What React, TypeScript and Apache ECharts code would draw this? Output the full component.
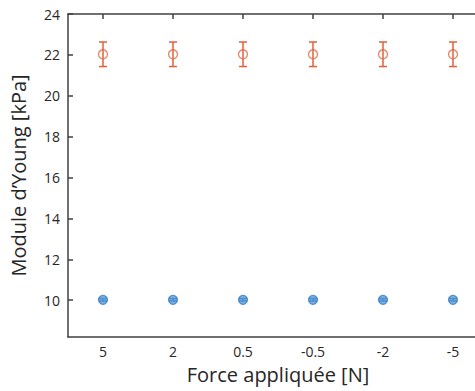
import React, { useEffect, useRef } from "react";
import * as echarts from "echarts";

const categories = ["5", "2", "0.5", "-0.5", "-2", "-5"];
const orangeMean = [22.03, 22.03, 22.03, 22.03, 22.03, 22.03];
const orangeErr = [0.6, 0.6, 0.6, 0.6, 0.6, 0.6];
const blueMean = [10.02, 10.02, 10.02, 10.02, 10.02, 10.02];
const blueErr = [0.06, 0.06, 0.06, 0.06, 0.06, 0.06];

const ORANGE = "#E2603A";
const BLUE = "#2E7CC4";
const AXIS = "#404040";
const FONT = "Open Sans";

function errSeries(mean: number[], err: number[], color: string) {
  const data = mean.map((m, i) => [i, m - err[i], m + err[i]]);
  return {
    type: "custom",
    data,
    z: 3,
    renderItem: (params: any, api: any) => {
      const x = api.value(0);
      const lo = api.coord([x, api.value(1)]);
      const hi = api.coord([x, api.value(2)]);
      const w = 4;
      const style = { stroke: color, lineWidth: 1.5 };
      return {
        type: "group",
        children: [
          { type: "line", shape: { x1: lo[0], y1: lo[1], x2: hi[0], y2: hi[1] }, style },
          { type: "line", shape: { x1: lo[0] - w, y1: lo[1], x2: lo[0] + w, y2: lo[1] }, style },
          { type: "line", shape: { x1: hi[0] - w, y1: hi[1], x2: hi[0] + w, y2: hi[1] }, style },
        ],
      };
    },
  };
}

export default function App() {
  const ref = useRef<HTMLDivElement>(null);
  useEffect(() => {
    const chart = echarts.init(ref.current!, null, { renderer: "svg" });
    chart.setOption({
      animation: false,
      textStyle: { fontFamily: FONT },
      grid: { left: 68, top: 14, width: 420, height: 323, outerBoundsMode: "none", containLabel: false },
      xAxis: [
        {
          type: "category",
          data: categories,
          boundaryGap: true,
          position: "bottom",
          axisLine: { lineStyle: { color: AXIS, width: 1.5 } },
          axisTick: { inside: true, alignWithLabel: true, length: 5, lineStyle: { color: AXIS, width: 1.5 } },
          axisLabel: { color: "#262626", fontSize: 14, margin: 7, fontFamily: FONT },
          name: "Force appliquée [N]",
          nameLocation: "middle",
          nameGap: 27,
          nameTextStyle: { color: "#262626", fontSize: 20, fontFamily: FONT },
        },
        {
          type: "category",
          data: categories,
          boundaryGap: true,
          position: "top",
          axisLine: { lineStyle: { color: AXIS, width: 1.5 } },
          axisTick: { show: true, inside: true, alignWithLabel: true, length: 5, lineStyle: { color: AXIS, width: 1.5 } },
          axisLabel: { show: false },
        },
      ],
      yAxis: {
        type: "value",
        min: 8.2,
        max: 24,
        splitNumber: 8,
        splitLine: { show: false },
        axisLine: { show: true, lineStyle: { color: AXIS, width: 1.5 } },
        axisTick: { show: true, inside: true, length: 5, lineStyle: { color: AXIS, width: 1.5 } },
        axisLabel: {
          color: "#262626",
          fontSize: 14,
          margin: 8,
          fontFamily: FONT,
          showMinLabel: false,
          formatter: (v: number) => (Number.isInteger(v) ? String(v) : ""),
        },
        name: "Module d\u2019Young [kPa]",
        nameLocation: "middle",
        nameGap: 40,
        nameTextStyle: { color: "#262626", fontSize: 20, fontFamily: FONT },
      },
      series: [
        errSeries(orangeMean, orangeErr, ORANGE),
        {
          type: "scatter",
          data: orangeMean.map((v, i) => [i, v]),
          symbol: "circle",
          symbolSize: 9,
          itemStyle: { color: "transparent", borderColor: ORANGE, borderWidth: 1.2 },
          z: 4,
        },
        {
          type: "scatter",
          data: blueMean.map((v, i) => [i, v]),
          symbol: "circle",
          symbolSize: 9,
          itemStyle: { color: "#5A9BD8", borderColor: BLUE, borderWidth: 1.2 },
          z: 4,
        },
        errSeries(blueMean, blueErr, "#1F5F9E"),
      ],
    });
    return () => chart.dispose();
  }, []);
  return <div ref={ref} style={{ width: 475, height: 391, position: "absolute", left: 0, top: 0 }} />;
}
